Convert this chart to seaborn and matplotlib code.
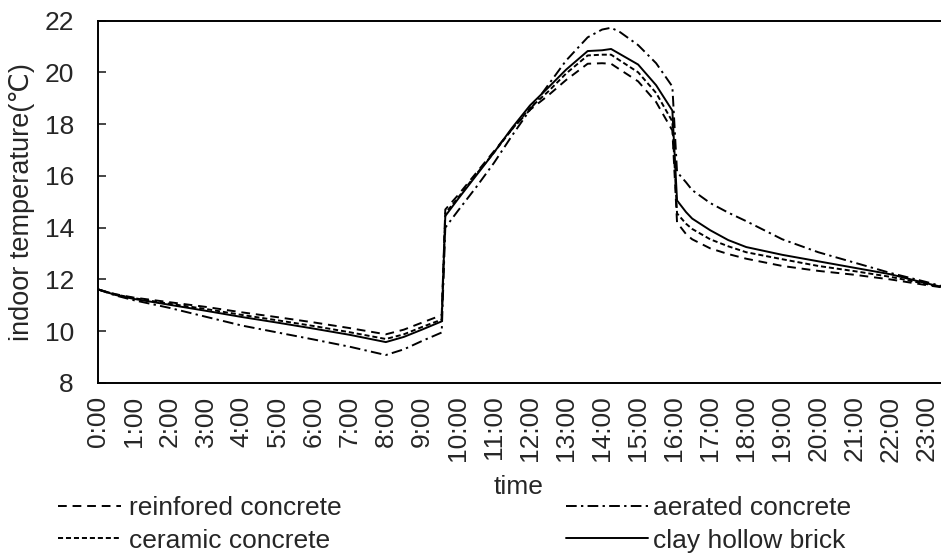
import matplotlib
matplotlib.use("Agg")
import matplotlib.pyplot as plt
import seaborn as sns
import pandas as pd

# ---- data ----
hours = [0, 0.5, 1, 2, 3, 4, 5, 6, 7, 8, 8.5, 9, 9.55, 9.65, 10, 10.5, 11, 11.5,
         12, 12.5, 13, 13.6, 14.0, 14.25, 14.5, 15.0, 15.5, 15.95, 16.08, 16.33,
         16.5, 17, 17.5, 18, 19, 20, 21, 22, 23, 23.4]

reinforced = [11.62, 11.43, 11.30, 11.12, 10.94, 10.73, 10.54, 10.34, 10.12, 9.88,
              10.06, 10.33, 10.62, 14.70, 15.25, 16.10, 16.95, 17.80, 18.55, 19.10,
              19.70, 20.33, 20.35, 20.33, 20.10, 19.65, 18.85, 17.75, 14.20, 13.75,
              13.55, 13.20, 12.98, 12.80, 12.52, 12.33, 12.18, 12.00, 11.78, 11.70]

ceramic = [11.62, 11.42, 11.28, 11.06, 10.86, 10.63, 10.42, 10.20, 9.96, 9.70,
           9.88, 10.16, 10.45, 14.55, 15.15, 16.05, 16.90, 17.80, 18.62, 19.25,
           19.95, 20.65, 20.68, 20.68, 20.45, 20.00, 19.20, 18.10, 14.55, 14.15,
           13.95, 13.55, 13.28, 13.05, 12.78, 12.52, 12.32, 12.10, 11.82, 11.72]

aerated = [11.62, 11.38, 11.20, 10.90, 10.56, 10.22, 9.95, 9.68, 9.40, 9.08,
           9.30, 9.62, 9.95, 14.00, 14.65, 15.55, 16.50, 17.55, 18.55, 19.50,
           20.45, 21.35, 21.65, 21.72, 21.55, 21.05, 20.35, 19.45, 16.15, 15.75,
           15.45, 14.95, 14.58, 14.25, 13.55, 13.05, 12.65, 12.25, 11.90, 11.75]

clay = [11.62, 11.40, 11.25, 11.02, 10.79, 10.55, 10.33, 10.10, 9.86, 9.58,
        9.78, 10.06, 10.38, 14.45, 15.10, 16.00, 16.90, 17.85, 18.72, 19.40,
        20.10, 20.82, 20.85, 20.90, 20.70, 20.30, 19.50, 18.52, 15.05, 14.60,
        14.35, 13.90, 13.52, 13.25, 12.95, 12.70, 12.45, 12.20, 11.85, 11.72]

materials = ["reinfored concrete", "aerated concrete", "ceramic concrete", "clay hollow brick"]
tick_hours = list(range(24))
tick_labels = [f"{h}:00" for h in tick_hours]

# ---- build long table ----
series = {"reinfored concrete": reinforced, "aerated concrete": aerated,
          "ceramic concrete": ceramic, "clay hollow brick": clay}
rows = []
for name, vals in series.items():
    for h, v in zip(hours, vals):
        rows.append({"hour": h, "temp": v, "material": name})
df = pd.DataFrame(rows)

sns.set_style("white")
plt.rcParams["font.family"] = ["Liberation Sans", "DejaVu Sans"]
FS = 19

fig = plt.figure(figsize=(9.41, 5.59), dpi=100)
ax = fig.add_axes([97.5 / 941, 1 - 383 / 559, (940.5 - 97.5) / 941, (383 - 20.5) / 559])

dashes = {"reinfored concrete": (4.5, 3),
          "aerated concrete": (5.5, 2.2, 1.2, 2.2),
          "ceramic concrete": (2.6, 1.5),
          "clay hollow brick": ""}
palette = {m: "black" for m in materials}

sns.lineplot(data=df, x="hour", y="temp", hue="material", style="material",
             hue_order=materials, style_order=materials, palette=palette,
             dashes=dashes, sort=False, estimator=None, linewidth=1.4,
             legend=False, ax=ax)

ax.set_xlim(0, 23.39)
ax.set_ylim(8, 22)
ax.set_yticks([8, 10, 12, 14, 16, 18, 20, 22])
ax.set_xticks(tick_hours)
ax.set_xticklabels(tick_labels, rotation=90, fontsize=FS)
ax.tick_params(axis="x", length=0, pad=9)
ax.tick_params(axis="y", direction="in", length=6, width=1.2, pad=17, labelsize=FS, left=True)

for s in ["left", "bottom", "top"]:
    ax.spines[s].set_linewidth(1.4)
    ax.spines[s].set_color("black")
ax.spines["right"].set_visible(False)

ax.set_xlabel("time", fontsize=FS)
ax.xaxis.set_label_coords(0.5, -0.255)
ax.set_ylabel("indoor temperature(℃)", fontsize=FS + 0.5)
ax.yaxis.set_label_coords(-0.074, 0.5)

handles = {m: l for m, l in zip(materials, ax.get_lines())}

leg1 = fig.legend([handles["reinfored concrete"], handles["ceramic concrete"]],
                  ["reinfored concrete", "ceramic concrete"],
                  loc="upper left", bbox_to_anchor=(58 / 941, 1 - 496 / 559),
                  frameon=False, fontsize=FS, handlelength=2.4, handletextpad=0.3,
                  labelspacing=0.33, borderpad=0, borderaxespad=0)
leg2 = fig.legend([handles["aerated concrete"], handles["clay hollow brick"]],
                  ["aerated concrete", "clay hollow brick"],
                  loc="upper left", bbox_to_anchor=(566 / 941, 1 - 496 / 559),
                  frameon=False, fontsize=FS, handlelength=3.1, handletextpad=0.2,
                  labelspacing=0.33, borderpad=0, borderaxespad=0)

fig.savefig("out.png", dpi=100)
